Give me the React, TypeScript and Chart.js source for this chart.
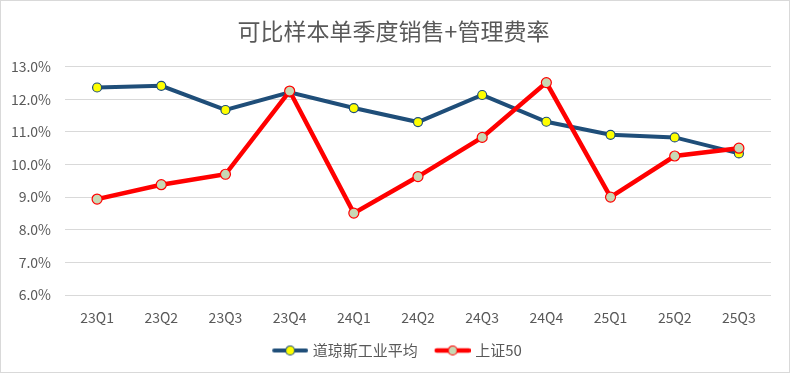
import React, { useEffect, useRef } from "react";
import { Chart, registerables } from "chart.js";

Chart.register(...registerables);

const categories = ["23Q1", "23Q2", "23Q3", "23Q4", "24Q1", "24Q2", "24Q3", "24Q4", "25Q1", "25Q2", "25Q3"];
const dowValues = [12.36, 12.41, 11.67, 12.21, 11.73, 11.3, 12.13, 11.31, 10.91, 10.83, 10.34];
const sz50Values = [8.94, 9.38, 9.7, 12.25, 8.51, 9.63, 10.83, 12.51, 9.0, 10.26, 10.5];
const seriesNames = ["道琼斯工业平均", "上证50"];
const titleText = "可比样本单季度销售+管理费率";

const BLUE = "#1f4e79";
const RED = "#ff0000";
const FONT = "'Noto Sans CJK SC', 'Noto Sans', sans-serif";

function legendIcon(line: string, fill: string, border: string, lw: number): HTMLCanvasElement {
  const c = document.createElement("canvas");
  c.width = 46;
  c.height = 12;
  const ctx = c.getContext("2d")!;
  ctx.strokeStyle = line;
  ctx.lineWidth = lw;
  ctx.lineCap = "round";
  ctx.beginPath();
  ctx.moveTo(12, 6);
  ctx.lineTo(44, 6);
  ctx.stroke();
  ctx.beginPath();
  ctx.arc(28, 6, 4.5, 0, Math.PI * 2);
  ctx.fillStyle = fill;
  ctx.fill();
  ctx.lineWidth = 1.2;
  ctx.strokeStyle = border;
  ctx.stroke();
  return c;
}

export default function App() {
  const ref = useRef<HTMLCanvasElement | null>(null);
  useEffect(() => {
    document.body.style.margin = "0";
    const canvas = ref.current!;
    const icons = [legendIcon(BLUE, "#ffff00", BLUE, 4), legendIcon(RED, "#c8d8b4", RED, 4.5)];
    const chart = new Chart(canvas, {
      type: "line",
      data: {
        labels: categories,
        datasets: [
          {
            label: seriesNames[0],
            data: dowValues,
            borderColor: BLUE,
            backgroundColor: "#ffff00",
            borderWidth: 4,
            pointRadius: 4.5,
            pointBorderWidth: 1.2,
            pointBorderColor: BLUE,
            pointBackgroundColor: "#ffff00",
            tension: 0,
            order: 2,
          },
          {
            label: seriesNames[1],
            data: sz50Values,
            borderColor: RED,
            backgroundColor: "#c8d8b4",
            borderWidth: 4.5,
            pointRadius: 5,
            pointBorderWidth: 1.2,
            pointBorderColor: RED,
            pointBackgroundColor: "#c8d8b4",
            tension: 0,
            order: 1,
          },
        ],
      },
      options: {
        responsive: false,
        animation: false,
        devicePixelRatio: 1,
        layout: { padding: { left: 8, right: 11, top: 0, bottom: 4 } },
        plugins: {
          title: {
            display: true,
            text: titleText,
            color: "#595959",
            font: { family: FONT, size: 23, weight: "normal" },
            padding: { top: 16, bottom: 22 },
          },
          legend: {
            position: "bottom",
            labels: {
              color: "#595959",
              font: { family: FONT, size: 15 },
              usePointStyle: true,
              pointStyleWidth: 40,
              padding: 10,
              generateLabels: (ch: any) =>
                ch.data.datasets.map((ds: any, i: number) => ({
                  text: ds.label,
                  pointStyle: icons[i],
                  fillStyle: ds.backgroundColor,
                  strokeStyle: ds.borderColor,
                  lineWidth: 0,
                  hidden: false,
                  datasetIndex: i,
                  fontColor: "#595959",
                })),
            },
          },
          tooltip: { enabled: false },
        },
        scales: {
          x: {
            offset: true,
            grid: { display: false },
            border: { display: false },
            ticks: { color: "#595959", font: { family: FONT, size: 14 }, padding: 6, maxRotation: 0 },
            afterFit: (s: any) => {
              s.height = 38;
            },
          },
          y: {
            min: 6,
            max: 13,
            grid: { color: "#d9d9d9", lineWidth: 1, drawTicks: false },
            border: { display: false },
            ticks: {
              stepSize: 1,
              color: "#595959",
              font: { family: FONT, size: 14 },
              padding: 14,
              callback: (v: any) => Number(v).toFixed(1) + "%",
            },
            afterFit: (s: any) => {
              s.width = 56;
            },
          },
          yPad: {
            position: "right",
            grid: { display: false },
            border: { display: false },
            ticks: { display: false },
            afterFit: (s: any) => {
              s.width = 7;
            },
          },
        },
      },
    });
    return () => chart.destroy();
  }, []);
  return (
    <div
      style={{
        position: "absolute",
        left: 0,
        top: 0,
        width: 790,
        height: 373,
        boxSizing: "border-box",
        border: "1px solid #d9d9d9",
        background: "#fff",
      }}
    >
      <canvas ref={ref} width={788} height={371} style={{ display: "block" }} />
    </div>
  );
}
